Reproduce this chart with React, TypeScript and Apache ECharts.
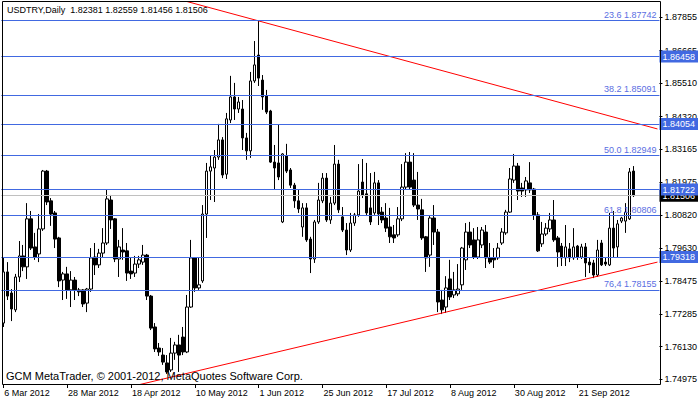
import React, { useEffect, useRef } from "react";
import * as echarts from "echarts";

// ---- data ----
const openPrices = [
  1.7697, 1.7879, 1.7804, 1.7744, 1.7861, 1.7936, 1.7897, 1.8068, 1.7968, 1.7943,
  1.8032, 1.8238, 1.8132, 1.8089, 1.8000, 1.7850, 1.7872, 1.7815, 1.7850, 1.7815,
  1.7815, 1.7768, 1.7818, 1.7932, 1.7904, 1.7946, 1.7982, 1.8135, 1.8068, 1.7925,
  1.7957, 1.7954, 1.7882, 1.7875, 1.7907, 1.7914, 1.7939, 1.7793, 1.7683, 1.7608,
  1.7583, 1.7555, 1.7530, 1.7590, 1.7619, 1.7647, 1.7594, 1.7754, 1.7929, 1.7822,
  1.7847, 1.8085, 1.8238, 1.8249, 1.8288, 1.8349, 1.8227, 1.8420, 1.8502, 1.8459,
  1.8459, 1.8356, 1.8310, 1.8559, 1.8651, 1.8562, 1.8505, 1.8452, 1.8270, 1.8267,
  1.8057, 1.8292, 1.8242, 1.8188, 1.8132, 1.8039, 1.8107, 1.7996, 1.7925, 1.8057,
  1.8132, 1.8213, 1.8064, 1.8124, 1.8263, 1.8075, 1.8028, 1.7957, 1.8053, 1.8082,
  1.8199, 1.8157, 1.8107, 1.8089, 1.8196, 1.8092, 1.8071, 1.8039, 1.8011, 1.8011,
  1.8068, 1.8181, 1.8270, 1.8206, 1.8117, 1.8100, 1.8004, 1.7939, 1.8071, 1.8021,
  1.7779, 1.7754, 1.7854, 1.7797, 1.7801, 1.7833, 1.7922, 1.8021, 1.7993, 1.7932,
  1.7975, 1.8021, 1.7929, 1.7929, 1.7929, 1.7982, 1.8018, 1.8092, 1.8206, 1.8256,
  1.8178, 1.8171, 1.8196, 1.8174, 1.8082, 1.7979, 1.8014, 1.8032, 1.8064, 1.8000,
  1.7971, 1.7929, 1.7961, 1.7929, 1.7971, 1.7932, 1.7968, 1.7914, 1.7911, 1.7868,
  1.7982, 1.7914, 1.7904, 1.8035, 1.7968, 1.8060, 1.8060, 1.8068, 1.82381,
];
const closePrices = [
  1.7879, 1.7793, 1.7747, 1.7861, 1.7936, 1.7897, 1.8068, 1.7964, 1.7932, 1.8032,
  1.8238, 1.8128, 1.8085, 1.7996, 1.7847, 1.7872, 1.7815, 1.7850, 1.7815, 1.7808,
  1.7765, 1.7818, 1.7929, 1.7904, 1.7946, 1.7982, 1.8139, 1.8064, 1.7925, 1.7968,
  1.7950, 1.7875, 1.7872, 1.7907, 1.7922, 1.7939, 1.7793, 1.7679, 1.7605, 1.7594,
  1.7558, 1.7523, 1.7590, 1.7619, 1.7583, 1.7594, 1.7754, 1.7929, 1.7822, 1.7833,
  1.8085, 1.8238, 1.8253, 1.8288, 1.8349, 1.8224, 1.8424, 1.8502, 1.8459, 1.8484,
  1.8356, 1.8310, 1.8559, 1.8616, 1.8569, 1.8502, 1.8448, 1.8270, 1.8249, 1.8217,
  1.8299, 1.8238, 1.8188, 1.8132, 1.8103, 1.8107, 1.7993, 1.7925, 1.8057, 1.8135,
  1.8213, 1.8064, 1.8124, 1.8263, 1.8100, 1.8028, 1.7957, 1.8053, 1.8082, 1.8167,
  1.8153, 1.8089, 1.8057, 1.8196, 1.8085, 1.8064, 1.8035, 1.8004, 1.8000, 1.8068,
  1.8181, 1.8270, 1.8181, 1.8117, 1.8103, 1.8000, 1.7929, 1.8071, 1.8021, 1.7772,
  1.7744, 1.7822, 1.7790, 1.7815, 1.7818, 1.7964, 1.8021, 1.7975, 1.7932, 1.7993,
  1.8028, 1.7929, 1.7914, 1.7922, 1.7964, 1.8021, 1.8092, 1.8210, 1.8256, 1.8167,
  1.8167, 1.8203, 1.8171, 1.8082, 1.7954, 1.8014, 1.8035, 1.8064, 1.7993, 1.7950,
  1.7929, 1.7968, 1.7929, 1.7968, 1.7932, 1.7968, 1.7911, 1.7904, 1.7868, 1.7957,
  1.7904, 1.7907, 1.8035, 1.7964, 1.8050, 1.8071, 1.8092, 1.8235, 1.81506,
];
const lowPrices = [
  1.7683, 1.7779, 1.7704, 1.7736, 1.7843, 1.7882, 1.7854, 1.7957, 1.7922, 1.7914,
  1.8025, 1.8117, 1.8043, 1.7964, 1.7825, 1.7779, 1.7783, 1.7754, 1.7779, 1.7793,
  1.7754, 1.7736, 1.7808, 1.7868, 1.7893, 1.7929, 1.7975, 1.8032, 1.7914, 1.7861,
  1.7922, 1.7847, 1.7854, 1.7861, 1.7893, 1.7904, 1.7779, 1.7672, 1.7594, 1.7580,
  1.7548, 1.7516, 1.7523, 1.7566, 1.7523, 1.7583, 1.7590, 1.7751, 1.7808, 1.7815,
  1.7840, 1.8000, 1.8135, 1.8128, 1.8278, 1.8213, 1.8210, 1.8409, 1.8420, 1.8445,
  1.8313, 1.8278, 1.8285, 1.8552, 1.8541, 1.8456, 1.8441, 1.8267, 1.8171, 1.8206,
  1.8053, 1.8231, 1.8178, 1.8107, 1.8089, 1.8004, 1.7986, 1.7875, 1.7911, 1.8050,
  1.8124, 1.8057, 1.8050, 1.8117, 1.8089, 1.8021, 1.7939, 1.7950, 1.8043, 1.8075,
  1.8142, 1.8078, 1.8046, 1.8082, 1.8046, 1.8053, 1.8021, 1.7982, 1.7982, 1.8004,
  1.8060, 1.8174, 1.8171, 1.8110, 1.8064, 1.7993, 1.7879, 1.7897, 1.7975, 1.7736,
  1.7729, 1.7733, 1.7779, 1.7786, 1.7793, 1.7815, 1.7886, 1.7964, 1.7925, 1.7925,
  1.7964, 1.7893, 1.7907, 1.7893, 1.7922, 1.7975, 1.8011, 1.8089, 1.8196, 1.8135,
  1.8146, 1.8146, 1.8160, 1.8064, 1.7950, 1.7968, 1.8007, 1.8021, 1.7986, 1.7897,
  1.7900, 1.7900, 1.7914, 1.7922, 1.7922, 1.7925, 1.7861, 1.7875, 1.7857, 1.7861,
  1.7900, 1.7900, 1.7900, 1.7929, 1.7929, 1.8053, 1.8018, 1.8064, 1.81456,
];
const highPrices = [
  1.7929, 1.7914, 1.7818, 1.7872, 1.7989, 1.7975, 1.8124, 1.8096, 1.8018, 1.8085,
  1.8242, 1.8242, 1.8142, 1.8096, 1.8004, 1.7879, 1.7897, 1.7882, 1.7861, 1.7822,
  1.7818, 1.7822, 1.7964, 1.7982, 1.7961, 1.8035, 1.8171, 1.8153, 1.8071, 1.7993,
  1.8035, 1.7982, 1.7932, 1.7936, 1.7936, 1.7975, 1.7943, 1.7797, 1.7697, 1.7626,
  1.7608, 1.7583, 1.7644, 1.7630, 1.7655, 1.7683, 1.7797, 1.7993, 1.7932, 1.7932,
  1.8117, 1.8267, 1.8295, 1.8313, 1.8406, 1.8359, 1.8445, 1.8577, 1.8552, 1.8502,
  1.8491, 1.8374, 1.8591, 1.8701, 1.8774, 1.8580, 1.8527, 1.8456, 1.8331, 1.8403,
  1.8302, 1.8335, 1.8249, 1.8196, 1.8171, 1.8124, 1.8124, 1.8004, 1.8064, 1.8196,
  1.8231, 1.8231, 1.8146, 1.8331, 1.8278, 1.8110, 1.8053, 1.8089, 1.8089, 1.8263,
  1.8281, 1.8267, 1.8231, 1.8235, 1.8206, 1.8110, 1.8124, 1.8107, 1.8046, 1.8110,
  1.8263, 1.8302, 1.8306, 1.8302, 1.8235, 1.8139, 1.8007, 1.8078, 1.8117, 1.8032,
  1.7815, 1.7864, 1.7922, 1.7879, 1.7907, 1.7968, 1.8053, 1.8057, 1.8035, 1.8039,
  1.8039, 1.8046, 1.7982, 1.7964, 1.7982, 1.8035, 1.8100, 1.8249, 1.8299, 1.8267,
  1.8196, 1.8217, 1.8270, 1.8178, 1.8092, 1.8057, 1.8053, 1.8089, 1.8135, 1.8007,
  1.7982, 1.8046, 1.7982, 1.8035, 1.7975, 1.7979, 1.7982, 1.7929, 1.7922, 1.7993,
  1.7993, 1.7929, 1.8089, 1.8096, 1.8064, 1.8075, 1.8124, 1.8249, 1.82559,
];

const priceTicks = [
  1.74975, 1.7613, 1.77285, 1.78475, 1.7963, 1.8082,
  1.81975, 1.83165, 1.8432, 1.8551, 1.86665, 1.87855,
];
const fibRatios = ["23.6", "38.2", "50.0", "61.8", "76,4"];
const fibPrices = [1.87742, 1.85091, 1.82949, 1.80806, 1.78155];
const levelPrices = [1.86458, 1.84054, 1.81722, 1.79318];
const bidPrice = 1.81506;
const upperTrend = [[40, 1.8865], [164, 1.8388]];
const lowerTrend = [[30, 1.7464], [164, 1.7914]];
const titleText = "USDTRY,Daily\u00a0\u00a01.82381 1.82559 1.81456 1.81506";
const copyrightText = "GCM MetaTrader, \u00a9 2001-2012, MetaQuotes Software Corp.";

const MONTH_NAMES = ["Jan", "Feb", "Mar", "Apr", "May", "Jun", "Jul", "Aug", "Sep", "Oct", "Nov", "Dec"];
const EXTRA_TRADING_DAYS = ["2012-04-01"]; // a weekend bar present in the broker feed
const TOTAL_SLOTS = 165; // bars plus empty chart shift on the right
const LABEL_STEP = 16;

function tradingDates(count: number): string[] {
  const out: string[] = [];
  const d = new Date(Date.UTC(2012, 2, 6));
  while (out.length < count) {
    const wd = d.getUTCDay();
    const iso = d.toISOString().slice(0, 10);
    if ((wd !== 0 && wd !== 6) || EXTRA_TRADING_DAYS.includes(iso)) {
      out.push(`${d.getUTCDate()} ${MONTH_NAMES[d.getUTCMonth()]} ${d.getUTCFullYear()}`);
    }
    d.setUTCDate(d.getUTCDate() + 1);
  }
  return out;
}

const FONT = '"Liberation Sans", Arial, sans-serif';
const LINE_BLUE = "#4169E1";
const FIB_TEXT = "#5a6ee2";

export default function App() {
  const ref = useRef<HTMLDivElement>(null);

  useEffect(() => {
    if (!ref.current) return;
    const chart = echarts.init(ref.current, null, { renderer: "svg" });
    const categories = tradingDates(TOTAL_SLOTS);
    const barCount = openPrices.length;
    const showDate = (i: number) => i % LABEL_STEP === 0 && i < barCount;
    const candles = openPrices.map((o, i) => [o, closePrices[i], lowPrices[i], highPrices[i]]);

    const option: any = {
      animation: false,
      backgroundColor: "#ffffff",
      grid: { left: 1.3, top: 2, width: 660, height: 382, containLabel: false },
      xAxis: {
        type: "category",
        data: categories,
        boundaryGap: true,
        axisLine: { show: false },
        axisTick: {
          show: true,
          alignWithLabel: true,
          interval: (i: number) => showDate(i),
          length: 4,
          lineStyle: { color: "#000" },
        },
        axisLabel: {
          interval: (i: number) => showDate(i),
          align: "left",
          margin: 4,
          color: "#000",
          fontFamily: FONT,
          fontSize: 9,
          padding: [0, 0, 0, 1],
        },
        splitLine: { show: false },
      },
      yAxis: {
        type: "value",
        position: "right",
        min: 1.748,
        max: 1.884,
        axisLine: { show: false },
        axisTick: {
          show: true,
          length: 3,
          customValues: priceTicks,
          lineStyle: { color: "#000" },
        },
        axisLabel: {
          customValues: priceTicks,
          formatter: (v: number) => v.toFixed(5),
          color: "#000",
          fontFamily: FONT,
          fontSize: 9,
          margin: 5,
        },
        splitLine: { show: false },
      },
      series: [
        {
          type: "candlestick",
          data: candles,
          barWidth: 3,
          silent: true,
          itemStyle: {
            color: "#ffffff",
            color0: "#000000",
            borderColor: "#000000",
            borderColor0: "#000000",
            borderWidth: 1,
          },
          z: 2,
        },
        {
          type: "line",
          data: [],
          silent: true,
          z: 1,
          markLine: {
            silent: true,
            precision: 5,
            symbol: ["none", "none"],
            animation: false,
            data: [
              {
                yAxis: bidPrice,
                lineStyle: { color: "#c0c0c0", type: "solid", width: 1 },
                label: {
                  show: true,
                  position: "end",
                  distance: 0,
                  formatter: bidPrice.toFixed(5),
                  backgroundColor: "#000",
                  color: "#fff",
                  fontFamily: FONT,
                  fontSize: 9,
                  lineHeight: 10,
                  padding: [1, 3, 1, 3],
                },
              },
            ],
          },
        },
        {
          type: "line",
          data: [],
          silent: true,
          z: 3,
          markLine: {
            silent: true,
            precision: 5,
            symbol: ["none", "none"],
            animation: false,
            data: [
              ...levelPrices.map((p) => ({
                yAxis: p,
                lineStyle: { color: LINE_BLUE, type: "solid", width: 1 },
                label: {
                  show: true,
                  position: "end",
                  distance: 0,
                  formatter: p.toFixed(5),
                  backgroundColor: LINE_BLUE,
                  color: "#fff",
                  fontFamily: FONT,
                  fontSize: 9,
                  lineHeight: 10,
                  padding: [1, 3, 1, 3],
                },
              })),
              ...fibPrices.map((p, i) => ({
                yAxis: p,
                lineStyle: { color: LINE_BLUE, type: "solid", width: 1 },
                label: {
                  show: true,
                  position: "insideEndTop",
                  distance: [3, 1],
                  formatter: `${fibRatios[i]} ${p.toFixed(5)}`,
                  color: FIB_TEXT,
                  fontFamily: FONT,
                  fontSize: 9,
                },
              })),
            ],
          },
        },
        {
          type: "line",
          data: upperTrend,
          symbol: "none",
          silent: true,
          clip: true,
          lineStyle: { color: "#ff0000", width: 1 },
          z: 4,
        },
        {
          type: "line",
          data: lowerTrend,
          symbol: "none",
          silent: true,
          clip: true,
          lineStyle: { color: "#ff0000", width: 1 },
          z: 4,
        },
      ],
      graphic: [
        {
          type: "rect",
          silent: true,
          z: 100,
          shape: { x: 2.5, y: 1.5, width: 658, height: 383 },
          style: { fill: "none", stroke: "#000", lineWidth: 1 },
        },
        {
          type: "text",
          silent: true,
          z: 101,
          x: 7,
          y: 5,
          style: { text: titleText, font: `9px ${FONT}`, fill: "#000", textVerticalAlign: "top" },
        },
        {
          type: "text",
          silent: true,
          z: 101,
          x: 6,
          y: 370,
          style: { text: copyrightText, font: `11px ${FONT}`, fill: "#000", textVerticalAlign: "top" },
        },
      ],
    };

    chart.setOption(option);
    return () => chart.dispose();
  }, []);

  return (
    <div
      ref={ref}
      style={{ position: "fixed", left: 0, top: 0, width: 700, height: 402, background: "#fff" }}
    />
  );
}
